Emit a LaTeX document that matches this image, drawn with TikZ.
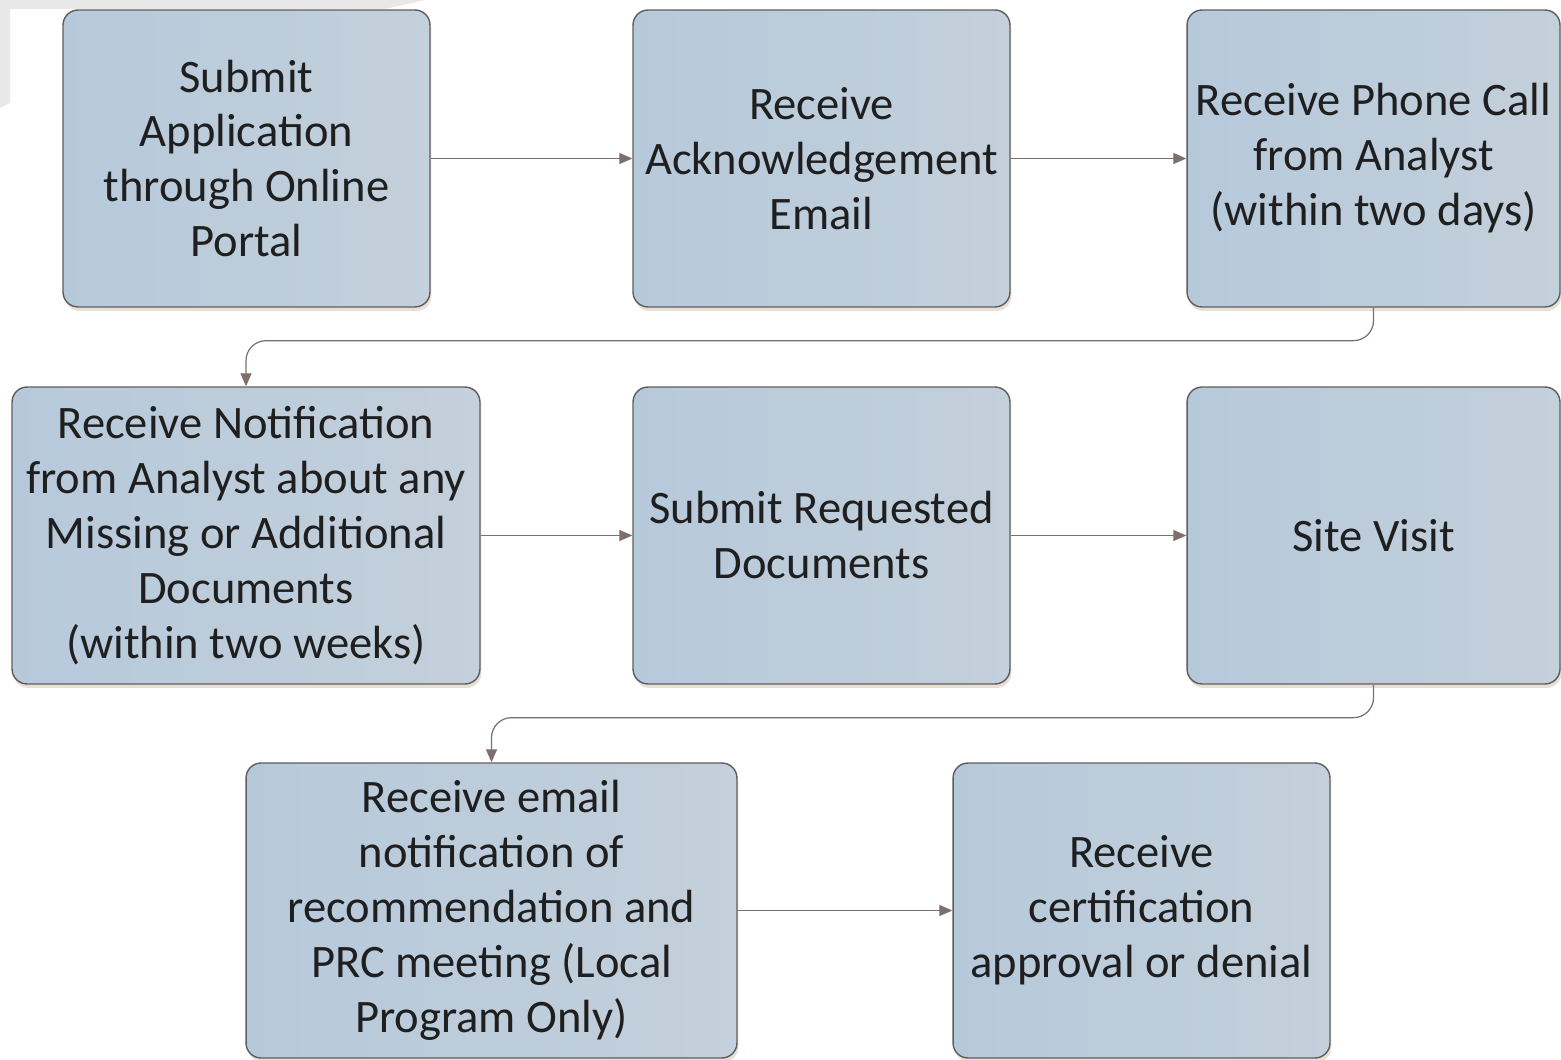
\documentclass[tikz,border=0pt]{standalone}
\usepackage{fontspec}
\setmainfont{Carlito}
\usepackage{tikz}
\usetikzlibrary{arrows.meta}
\usetikzlibrary{shadows}
\definecolor{boxleft}{HTML}{B6C9DB}
\definecolor{boxright}{HTML}{C4D0DB}
\definecolor{boxline}{HTML}{5E5E5E}
\definecolor{linkcol}{HTML}{7D6F6B}
\tikzset{stage/.style = {draw=boxline, line width=0.8pt, rounded corners=0.3cm,
                         left color=boxleft, right color=boxright,
                         align=center, inner sep=0, minimum height=5.94cm,
                         text=black!88, font=\fontsize{26.5}{31.3}\selectfont,
                         drop shadow={shadow xshift=0.03cm, shadow yshift=-0.08cm,
                                      opacity=0.25, fill=brown!60!gray}}}
\tikzset{link/.style = {draw=linkcol, line width=0.7pt, rounded corners=0.4cm,
                        -{Triangle[length=0.26cm, width=0.22cm]}}}

\begin{document}
\begin{tikzpicture}[x=0.02cm, y=-0.02cm]
      \useasboundingbox (0, 0) rectangle (1561, 1060);
      \fill [black!9] (0, 0) -- (425, 0) -- (385, 9) -- (10, 9) -- (10, 103) -- (0, 108) -- cycle;

      \node [stage, minimum width=7.34cm] (submit) at (246.5, 158.5) {Submit\\Application\\through Online\\Portal};
      \node [stage, minimum width=7.54cm] (ack) at (821.5, 158.5) {Receive\\Acknowledgement\\Email};
      \node [stage, minimum width=7.46cm] (call) at (1373.5, 158.5) {Receive Phone Call\\from Analyst\\(within two days)};

      \node [stage, minimum width=9.36cm] (notify) at (246, 535.5) {Receive Notification\\from Analyst about any\\Missing or Additional\\Documents\\(within two weeks)};
      \node [stage, minimum width=7.54cm] (docs) at (821.5, 535.5) {Submit Requested\\Documents};
      \node [stage, minimum width=7.46cm] (visit) at (1373.5, 535.5) {Site Visit};

      \node [stage, minimum width=9.82cm, minimum height=5.9cm] (prc) at (491.5, 910.5) {Receive email\\notification of\\recommendation and\\PRC meeting (Local\\Program Only)};
      \node [stage, minimum width=7.54cm, minimum height=5.9cm] (cert) at (1141.5, 910.5) {Receive\\certification\\approval or denial};

      \draw [link] (submit) -- (ack);
      \draw [link] (ack) -- (call);
      \draw [link] (call.south) -- ++(0, 33) -| (notify.north);
      \draw [link] (notify) -- (docs);
      \draw [link] (docs) -- (visit);
      \draw [link] (visit.south) -- ++(0, 33) -| (prc.north);
      \draw [link] (prc) -- (cert);
\end{tikzpicture}
\end{document}
